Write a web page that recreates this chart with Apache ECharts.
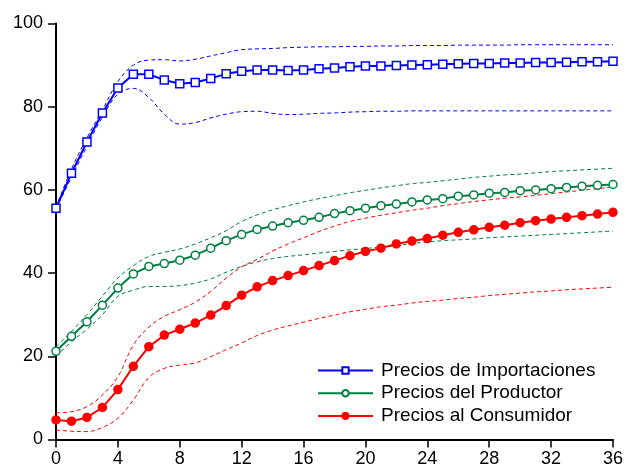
<!DOCTYPE html>
<html><head><meta charset="utf-8">
<script src="https://cdn.jsdelivr.net/npm/echarts@6/dist/echarts.min.js"></script>
<style>html,body{margin:0;padding:0;background:#fff}#c{width:626px;height:470px}</style>
</head><body><div id="c"></div>
<script>
var periods = [];
for (var i = 0; i <= 36; i++) periods.push(i);
var xTicks = [0,4,8,12,16,20,24,28,32,36];
var yTicks = [0,20,40,60,80,100];

var importaciones = [55.6,64.0,71.5,78.5,84.5,87.8,87.8,86.4,85.5,85.8,86.8,87.9,88.5,88.8,88.8,88.7,88.85,89.1,89.3,89.6,89.8,89.8,89.9,90.0,90.1,90.2,90.3,90.4,90.4,90.5,90.5,90.6,90.6,90.7,90.8,90.8,90.9];
var importUpper = [55.8,65.0,72.5,79.2,86.0,90.0,91.2,91.3,91.0,91.4,92.2,93.0,93.7,93.9,94.0,94.2,94.3,94.4,94.4,94.5,94.5,94.6,94.6,94.7,94.7,94.7,94.8,94.8,94.8,94.8,94.9,94.9,94.9,94.9,94.9,94.9,94.9];
var importLower = [55.4,63.0,70.5,77.5,83.0,84.4,82.2,78.2,75.8,76.2,77.3,78.2,78.8,78.9,78.4,78.1,78.2,78.4,78.5,78.7,78.8,78.9,78.9,79.0,79.0,79.0,79.0,79.0,79.0,79.0,79.0,79.0,79.0,79.0,79.0,79.0,79.0];

var productor = [21.2,24.8,28.3,32.3,36.4,39.8,41.6,42.3,43.1,44.3,46.0,47.8,49.3,50.5,51.3,52.1,52.7,53.4,54.3,55.0,55.6,56.2,56.6,57.1,57.6,57.9,58.5,58.8,59.2,59.4,59.8,60.0,60.3,60.6,60.9,61.1,61.3];
var productorUpper = [22.3,26.0,30.0,34.5,38.8,41.8,44.0,45.0,45.8,47.0,48.5,50.2,52.4,54.0,55.2,56.2,57.1,57.9,58.6,59.3,59.9,60.5,61.0,61.5,61.8,62.2,62.6,63.0,63.3,63.6,63.8,64.1,64.4,64.6,64.8,65.0,65.2];
var productorLower = [20.0,23.5,26.5,30.0,34.4,35.9,36.8,36.8,37.0,37.6,38.6,40.2,41.6,42.7,43.5,44.0,44.4,44.8,45.2,45.6,45.9,46.3,46.6,47.1,47.5,47.8,48.0,48.2,48.5,48.7,48.9,49.1,49.3,49.5,49.7,49.9,50.1];

var consumidor = [4.7,4.4,5.3,7.7,12.0,17.6,22.3,25.1,26.5,28.0,29.9,32.2,34.7,36.7,38.2,39.4,40.6,41.8,43.0,44.2,45.2,46.0,47.0,47.7,48.3,49.1,49.8,50.4,51.0,51.5,52.1,52.6,53.0,53.4,53.8,54.2,54.6];
var consumidorUpper = [6.4,6.7,7.9,10.7,15.1,22.7,27.0,29.6,31.2,33.0,35.6,38.8,41.5,43.3,45.3,47.0,48.5,50.0,51.3,52.4,53.2,53.9,54.5,55.1,55.6,56.2,56.7,57.2,57.6,58.0,58.3,58.7,59.1,59.5,59.9,60.3,60.7];
var consumidorLower = [2.3,2.0,1.9,2.9,5.1,9.5,14.9,17.1,17.9,18.4,19.9,21.6,23.2,25.0,26.3,27.3,28.2,29.1,29.9,30.7,31.3,31.9,32.3,32.8,33.2,33.5,33.9,34.2,34.6,34.9,35.2,35.5,35.7,36.0,36.2,36.4,36.6];

var names = ['Precios de Importaciones','Precios del Productor','Precios al Consumidor'];
var BLUE = '#0000FF', GREEN = '#00803F', RED = '#FF0000';
var FONT = 'Liberation Sans, Arial, sans-serif';

function pairs(arr){ return periods.map(function(p,i){ return [p, arr[i]]; }); }
function band(name, arr, color){
  return { name: name, type:'line', data: pairs(arr), symbol:'none', smooth:0.4,
    lineStyle:{color:color, width:1, type:[4,3]}, silent:true, z:1 };
}
function main(name, arr, color, symbol, fill, size){
  return { name: name, type:'line', data: pairs(arr), symbol: symbol, symbolSize: size,
    showAllSymbol: true, color: color,
    lineStyle:{color:color, width:2}, itemStyle:{color:fill, borderColor:color, borderWidth:1.5}, z:3 };
}

var chart = echarts.init(document.getElementById('c'), null, {renderer:'canvas'});
chart.setOption({
  animation:false,
  backgroundColor:'#fff',
  grid:{left:56, right:11, top:23.5, bottom:30.5, containLabel:false},
  xAxis:{type:'value', min:0, max:36, interval:4,
    axisLine:{show:true, lineStyle:{color:'#000', width:2}},
    axisTick:{show:true, inside:false, length:8, lineStyle:{color:'#000', width:1.5}},
    axisLabel:{color:'#000', fontSize:18, fontFamily:FONT, margin:11,
      formatter:function(v){ return xTicks.indexOf(v)>=0 ? String(v) : ''; }},
    splitLine:{show:false}},
  yAxis:{type:'value', min:0, max:100, interval:20,
    axisLine:{show:true, lineStyle:{color:'#000', width:2}},
    axisTick:{show:true, inside:false, length:8, lineStyle:{color:'#000', width:1.5}},
    axisLabel:{color:'#000', fontSize:18, fontFamily:FONT, margin:13,
      formatter:function(v){ return yTicks.indexOf(v)>=0 ? String(v) : ''; }},
    splitLine:{show:false}},
  legend:{data:names, orient:'vertical', left:317, top:361, itemWidth:55, itemHeight:8, itemGap:3.7,
    padding:0,
    textStyle:{fontSize:19, lineHeight:19, color:'#000', fontFamily:FONT, padding:[0,0,0,3]}},
  series:[
    band('ImpU', importUpper, BLUE), band('ImpL', importLower, BLUE),
    band('ProU', productorUpper, GREEN), band('ProL', productorLower, GREEN),
    band('ConU', consumidorUpper, RED), band('ConL', consumidorLower, RED),
    main(names[0], importaciones, BLUE, 'rect', '#fff', 8),
    main(names[1], productor, GREEN, 'circle', '#fff', 8),
    main(names[2], consumidor, RED, 'circle', RED, 8)
  ]
});
</script></body></html>
